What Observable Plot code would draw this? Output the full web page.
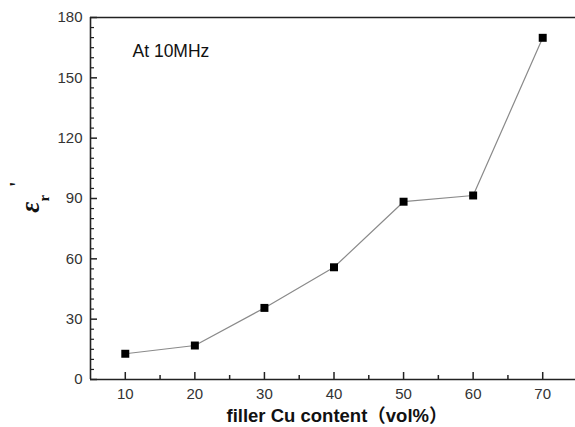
<!DOCTYPE html>
<html>
<head>
<meta charset="utf-8">
<script src="https://cdn.jsdelivr.net/npm/d3@7"></script>
<script src="https://cdn.jsdelivr.net/npm/@observablehq/plot@0.6"></script>
<style>
  html, body { margin: 0; padding: 0; background: #fff; overflow: hidden; }
</style>
</head>
<body>
<div id="chart"></div>
<script>
// Data
const content = [10, 20, 30, 40, 50, 60, 70];           // filler Cu content (vol%)
const permittivity = [12.8, 16.9, 35.6, 55.8, 88.4, 91.5, 169.9]; // ε_r'
const xTicks = [10, 20, 30, 40, 50, 60, 70];
const xMinorTicks = [15, 25, 35, 45, 55, 65];
const yTicks = [0, 30, 60, 90, 120, 150, 180];
const yMinorTicks = d3.range(5, 180, 5).filter(v => v % 30 !== 0);
const annotation = "At 10MHz";
const xTitle = "filler Cu content（vol%）";

const data = content.map((c, i) => ({content: c, eps: permittivity[i]}));

const W = 575, H = 427, mL = 90, mT = 17, mB = 48, mR = 0;
const frameW = W - mL - mR;   // width covered by ruleY
const frameH = H - mT - mB;   // height covered by ruleX
const majorLen = 7, minorLen = 4;

const font = "'Liberation Sans', Arial, 'Noto Sans CJK SC', sans-serif";
const axisColor = "#222";

const chart = Plot.plot({
  width: W,
  height: H,
  marginLeft: mL,
  marginTop: mT,
  marginBottom: mB,
  marginRight: mR,
  x: {domain: [5, 75], range: [mL, 577]},
  y: {domain: [0, 180]},
  style: {fontFamily: font, fontSize: "15px", color: "#333", background: "#fff"},
  marks: [
    // frame lines
    Plot.ruleY([0], {stroke: axisColor, strokeWidth: 1.6}),
    Plot.ruleY([180], {stroke: axisColor, strokeWidth: 1.6}),
    Plot.ruleX([5], {stroke: axisColor, strokeWidth: 1.6}),
    // x axis labels
    Plot.axisX(xTicks, {tickSize: 0, tickPadding: 9, label: null, fill: "#333", fontSize: 15}),
    // x ticks (inward, from the bottom edge)
    Plot.ruleX(xTicks, {x: d => d, insetTop: frameH - majorLen, stroke: axisColor, strokeWidth: 1.5}),
    Plot.ruleX(xMinorTicks, {x: d => d, insetTop: frameH - minorLen, stroke: axisColor, strokeWidth: 1.5}),
    // y axis labels
    Plot.axisY(yTicks, {tickSize: 0, tickPadding: 8, label: null, fill: "#333", fontSize: 15}),
    // y ticks (inward, from the left edge)
    Plot.ruleY(yTicks, {y: d => d, insetRight: frameW - majorLen, stroke: axisColor, strokeWidth: 1.5}),
    Plot.ruleY(yMinorTicks, {y: d => d, insetRight: frameW - minorLen, stroke: axisColor, strokeWidth: 1.2}),
    // data
    Plot.line(data, {x: "content", y: "eps", stroke: "#8a8a8a", strokeWidth: 1.2}),
    Plot.dot(data, {x: "content", y: "eps", symbol: "square", r: 4.5, fill: "#000", stroke: null}),
    // annotation
    Plot.text([annotation], {frameAnchor: "top-left", dx: 42, dy: 39, lineAnchor: "bottom", textAnchor: "start", fontSize: 17.5, fill: "#111"}),
    // x title
    Plot.text([xTitle], {frameAnchor: "bottom", dx: 4, dy: 42, lineAnchor: "bottom", fontSize: 18.5, fontWeight: "bold", fill: "#111"})
  ]
});

document.getElementById("chart").appendChild(chart);

// y-axis title: ε_r' rotated
const svg = d3.select(chart);
const yt = svg.append("text")
  .attr("transform", "translate(39,197) rotate(-90)")
  .attr("fill", "#111")
  .attr("font-family", "'Liberation Serif', 'DejaVu Serif', serif")
  .attr("font-weight", "bold");
yt.append("tspan").attr("font-size", 27).attr("font-style", "italic").text("ε");
yt.append("tspan").attr("font-size", 15).attr("dy", 10).text("r");
yt.append("tspan").attr("font-size", 20).attr("dx", 8).attr("dy", -25).text("'");
</script>
</body>
</html>
